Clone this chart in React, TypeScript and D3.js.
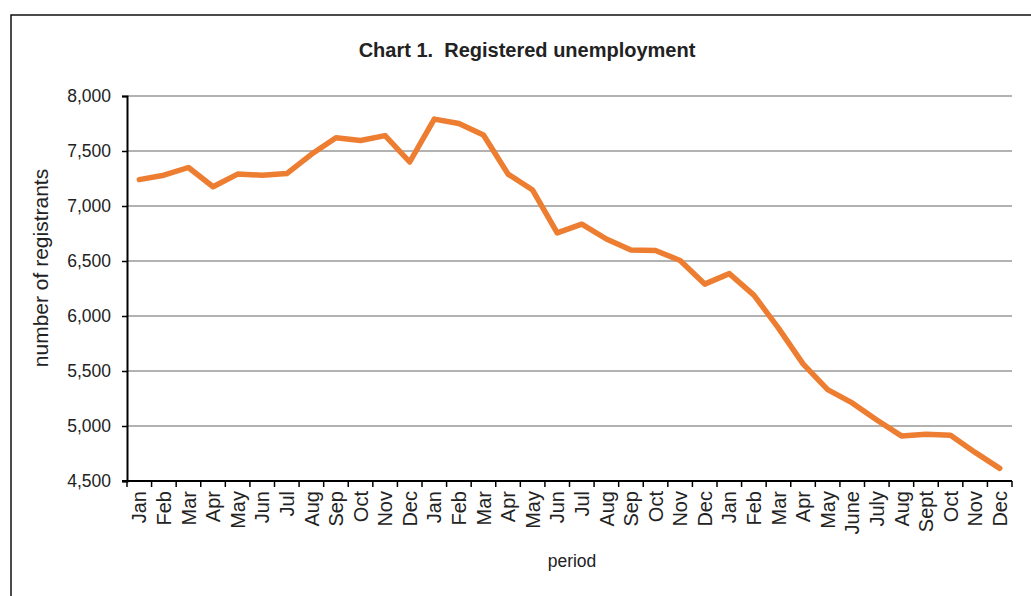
import React, { useRef, useEffect } from "react";
import * as d3 from "d3";

// three years of monthly registrant counts
const months = [
  "Jan", "Feb", "Mar", "Apr", "May", "Jun", "Jul", "Aug", "Sep", "Oct", "Nov", "Dec",
  "Jan", "Feb", "Mar", "Apr", "May", "Jun", "Jul", "Aug", "Sep", "Oct", "Nov", "Dec",
  "Jan", "Feb", "Mar", "Apr", "May", "June", "July", "Aug", "Sept", "Oct", "Nov", "Dec",
];
const year1 = [7240, 7280, 7350, 7175, 7290, 7280, 7295, 7470, 7620, 7595, 7640, 7400];
const year2 = [7790, 7750, 7645, 7290, 7145, 6755, 6835, 6700, 6600, 6595, 6505, 6290];
const year3 = [6385, 6190, 5890, 5565, 5330, 5210, 5055, 4910, 4925, 4915, 4760, 4615];
const yTicks = [4500, 5000, 5500, 6000, 6500, 7000, 7500, 8000];

const W = 1031;
const H = 596;

const App = () => {
  const svgRef = useRef<SVGSVGElement>(null);

  useEffect(() => {
    const svg = d3.select(svgRef.current);
    svg.selectAll("*").remove();

    const values = [...year1, ...year2, ...year3];
    const font = "'Liberation Sans', Arial, sans-serif";

    const left = 127;
    const right = 1012;
    const top = 96;
    const bottom = 481;

    const x = d3
      .scaleBand<number>()
      .domain(d3.range(months.length))
      .range([left, right]);
    const y = d3.scaleLinear().domain([4500, 8000]).range([bottom, top]);

    // outer frame
    svg
      .append("path")
      .attr("d", `M11,${H + 5} L11,15 L${W + 5},15`)
      .attr("fill", "none")
      .attr("stroke", "#111")
      .attr("stroke-width", 1.5);

    svg
      .append("text")
      .attr("x", 527)
      .attr("y", 57)
      .attr("text-anchor", "middle")
      .style("font-family", font)
      .style("font-weight", "bold")
      .style("font-size", "20px")
      .style("white-space", "pre")
      .attr("fill", "#222")
      .text("Chart 1.  Registered unemployment");

    // gridlines
    svg
      .append("g")
      .selectAll("line")
      .data(yTicks.filter((t) => t > 4500))
      .join("line")
      .attr("x1", left)
      .attr("x2", right)
      .attr("y1", (d) => y(d))
      .attr("y2", (d) => y(d))
      .attr("stroke", "#999")
      .attr("stroke-width", 1.5);

    // y axis
    const yAxis = svg
      .append("g")
      .attr("transform", `translate(${left},0)`)
      .call(
        d3
          .axisLeft(y)
          .tickValues(yTicks)
          .tickFormat(d3.format(","))
          .tickSize(5)
          .tickPadding(11)
      );
    yAxis.select(".domain").attr("stroke", "#000").attr("stroke-width", 2);
    yAxis.selectAll(".tick line").attr("stroke", "#000").attr("stroke-width", 1.5);
    yAxis
      .selectAll(".tick text")
      .style("font-family", font)
      .style("font-size", "17.5px")
      .attr("fill", "#222");

    // x axis with ticks at band boundaries
    const xg = svg.append("g");
    xg.append("line")
      .attr("x1", left - 5)
      .attr("x2", right)
      .attr("y1", bottom)
      .attr("y2", bottom)
      .attr("stroke", "#000")
      .attr("stroke-width", 2);
    xg.selectAll("line.tk")
      .data(d3.range(months.length + 1))
      .join("line")
      .attr("class", "tk")
      .attr("x1", (i) => left + i * x.step())
      .attr("x2", (i) => left + i * x.step())
      .attr("y1", bottom)
      .attr("y2", bottom + 6)
      .attr("stroke", "#000")
      .attr("stroke-width", 1.5);
    xg.selectAll("text")
      .data(months)
      .join("text")
      .attr("transform", (d, i) => `translate(${x(i)! + x.bandwidth() / 2},${bottom + 10}) rotate(-90)`)
      .attr("text-anchor", "end")
      .attr("dy", "0.36em")
      .style("font-family", font)
      .style("font-size", "20px")
      .attr("fill", "#222")
      .text((d) => d);

    svg
      .append("text")
      .attr("x", 572)
      .attr("y", 567)
      .attr("text-anchor", "middle")
      .style("font-family", font)
      .style("font-size", "17.5px")
      .attr("fill", "#222")
      .text("period");

    svg
      .append("text")
      .attr("transform", `translate(48,268) rotate(-90)`)
      .attr("text-anchor", "middle")
      .style("font-family", font)
      .style("font-size", "21px")
      .attr("fill", "#222")
      .text("number of registrants");

    const line = d3
      .line<number>()
      .x((d, i) => x(i)! + x.bandwidth() / 2)
      .y((d) => y(d));

    svg
      .append("path")
      .datum(values)
      .attr("d", line)
      .attr("fill", "none")
      .attr("stroke", "#ED7D31")
      .attr("stroke-width", 5.5)
      .attr("stroke-linejoin", "round")
      .attr("stroke-linecap", "round");
  }, []);

  return (
    <svg
      ref={svgRef}
      width={W}
      height={H}
      style={{ position: "absolute", left: 0, top: 0, background: "#fff" }}
    ></svg>
  );
};

export default App;
